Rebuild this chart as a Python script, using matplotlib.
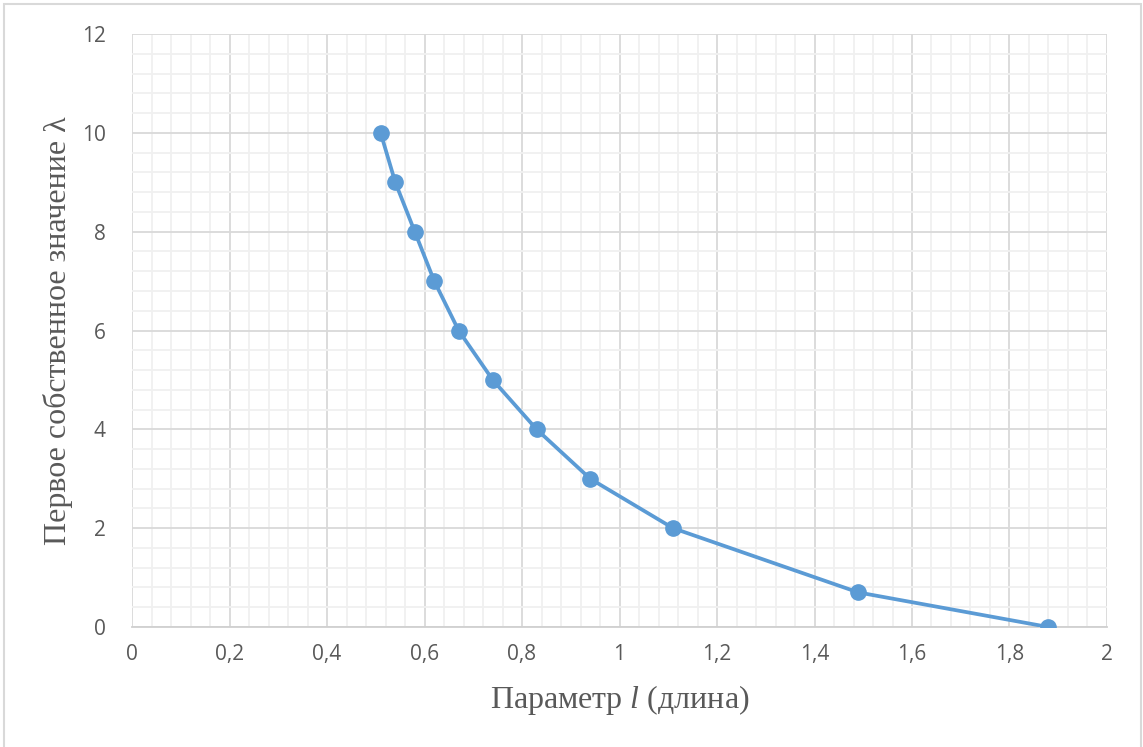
import matplotlib
matplotlib.use("agg")
from matplotlib import pyplot as plt
from matplotlib.patches import Rectangle
from matplotlib.ticker import MultipleLocator, FuncFormatter

plt.rcParams["font.family"] = ["Open Sans", "DejaVu Sans"]
plt.rcParams["mathtext.fontset"] = "custom"
plt.rcParams["mathtext.it"] = "Liberation Serif:italic"
plt.rcParams["mathtext.rm"] = "Liberation Serif"

# data
l_values = [0.51, 0.54, 0.58, 0.62, 0.67, 0.74, 0.83, 0.94, 1.11, 1.49, 1.88]
lam_values = [10, 9, 8, 7, 6, 5, 4, 3, 2, 0.7, 0]

x_label = "Параметр $\\mathit{l}$ (длина)"
y_label = "Первое собственное значение λ"

line_color = "#5B9BD5"
text_color = "#595959"

fig = plt.figure(figsize=(11.43, 7.47), dpi=100)
ax = fig.add_axes([0.1155, 0.1606, 0.853, 0.7939])

ax.plot(l_values, lam_values, color=line_color, lw=2.7, marker="o",
        markersize=11, zorder=3)

ax.set_xlim(0, 2)
ax.set_ylim(0, 12)
ax.xaxis.set_major_locator(MultipleLocator(0.2))
ax.xaxis.set_minor_locator(MultipleLocator(0.04))
ax.yaxis.set_major_locator(MultipleLocator(2))
ax.yaxis.set_minor_locator(MultipleLocator(0.4))
ax.xaxis.set_major_formatter(FuncFormatter(lambda v, p: ("%g" % round(v, 2)).replace(".", ",")))

ax.grid(which="major", color="#d9d9d9", lw=1.3)
ax.grid(which="minor", color="#f0f0f0", lw=1.3)
ax.set_axisbelow(True)

for side in ["top", "right", "left"]:
    ax.spines[side].set_visible(False)
ax.spines["bottom"].set_color("#d0d0d0")
ax.spines["bottom"].set_linewidth(1.3)

ax.tick_params(which="both", length=0, labelsize=15, labelcolor=text_color)
ax.tick_params(axis="x", pad=12)
ax.tick_params(axis="y", pad=19)

ax.set_xlabel(x_label, family="Liberation Serif", fontsize=23, color=text_color, labelpad=13)
ax.set_ylabel(y_label, family="Liberation Serif", fontsize=23, color=text_color, labelpad=6)

# chart area border
fig.patches.append(Rectangle((0.0035, -0.01), 0.995, 1.0045, transform=fig.transFigure,
                             fill=False, edgecolor="#d9d9d9", lw=1.5))

fig.savefig("out.png", dpi=100)
